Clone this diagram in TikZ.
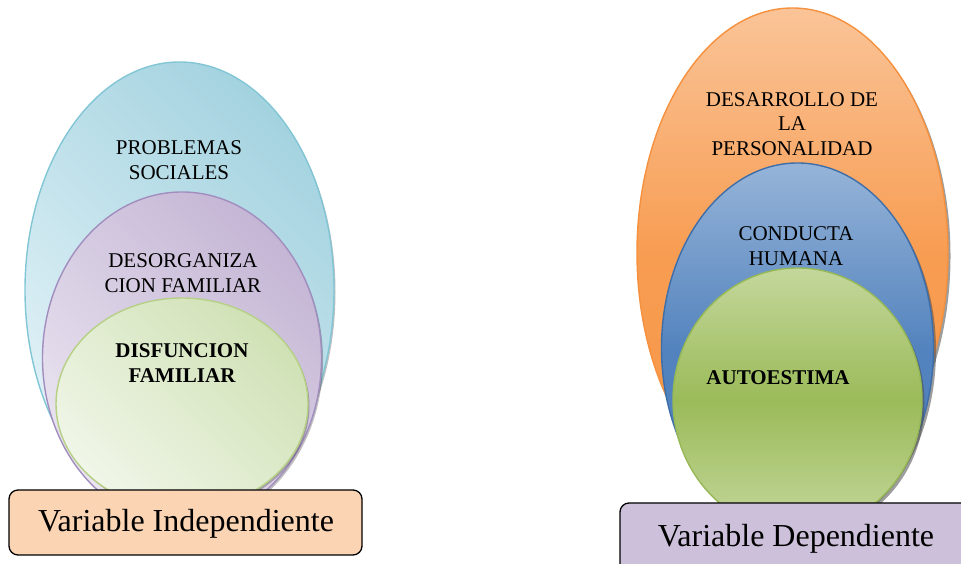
\documentclass[tikz,border=0pt]{standalone}
\usepackage{fontspec}
\setmainfont{Liberation Serif}
\usetikzlibrary{shapes.geometric,shadows}
\definecolor{lbluelt}{RGB}{226,242,247}
\definecolor{lbluedk}{RGB}{164,211,224}
\definecolor{lblueln}{RGB}{130,198,214}
\definecolor{lpurplt}{RGB}{234,228,240}
\definecolor{lpurpdk}{RGB}{196,182,213}
\definecolor{lpurpln}{RGB}{162,142,190}
\definecolor{lgreenlt}{RGB}{240,246,232}
\definecolor{lgreendk}{RGB}{208,225,181}
\definecolor{lgreenln}{RGB}{182,208,134}
\definecolor{orglt}{RGB}{250,196,152}
\definecolor{orgdk}{RGB}{247,150,70}
\definecolor{orgln}{RGB}{245,145,62}
\definecolor{bluelt}{RGB}{150,180,216}
\definecolor{bluedk}{RGB}{76,126,187}
\definecolor{blueln}{RGB}{62,110,170}
\definecolor{grnlt}{RGB}{196,215,156}
\definecolor{grndk}{RGB}{155,187,89}
\definecolor{grnln}{RGB}{150,185,85}
\definecolor{peach}{RGB}{251,212,180}
\definecolor{lilac}{RGB}{204,192,218}
\tikzset{
  oval/.style={ellipse, inner sep=0pt, line width=1.4pt},
  softshadow/.style={drop shadow={shadow xshift=1.5pt, shadow yshift=-2pt, opacity=0.25, fill=black}},
  hardshadow/.style={drop shadow={shadow xshift=2.5pt, shadow yshift=-3pt, opacity=0.55, fill=black!70}},
  lbl/.style={inner sep=0pt, align=center, font=\fontsize{21}{24.5}\selectfont},
  blbl/.style={lbl, font=\fontsize{21}{25}\selectfont\bfseries},
  varbox/.style={draw=black, line width=1.3pt, rounded corners=9pt, inner sep=0pt},
  vartext/.style={inner sep=0pt, font=\fontsize{32}{36}\selectfont},
}
\begin{document}
\begin{tikzpicture}[x=1pt,y=1pt]
\useasboundingbox (0,0) rectangle (961,564);
% left group
\node[oval, softshadow, draw=lblueln, top color=lbluedk, bottom color=lbluelt, shading angle=-45,
  minimum width=309pt, minimum height=456pt] (lblue) at (179.5,274) {};
\node[oval, softshadow, draw=lpurpln, top color=lpurpdk, bottom color=lpurplt, shading angle=-45,
  minimum width=279pt, minimum height=332pt] (lpurp) at (182,206) {};
\node[oval, softshadow, draw=lgreenln, top color=lgreendk, bottom color=lgreenlt, shading angle=-45,
  minimum width=252pt, minimum height=212pt] (lgreen) at (182,160) {};
\node[lbl] (tprob) at (179,404) {PROBLEMAS\\SOCIALES};
\node[lbl] (tdes) at (183,291) {DESORGANIZA\\CION FAMILIAR};
\node[blbl] (tdis) at (182,201) {DISFUNCION\\FAMILIAR};
\node[varbox, fill=peach, minimum width=353pt, minimum height=65pt] (vind) at (185.5,41.5) {};
\node[vartext] (tvind) at (186,40) {Variable Independiente};
% right group
\node[oval, hardshadow, draw=orgln, top color=orglt, bottom color=orgdk, middle color=orgdk!85!orglt,
  minimum width=311pt, minimum height=490pt] (rorg) at (792.5,311) {};
\node[oval, hardshadow, draw=blueln, top color=bluelt, bottom color=bluedk, middle color=bluedk!90!bluelt,
  minimum width=272pt, minimum height=370pt] (rblue) at (797.5,216) {};
\node[oval, hardshadow, draw=grnln, top color=grnlt, bottom color=grnlt, middle color=grndk,
  minimum width=249pt, minimum height=264pt] (rgreen) at (797.5,164) {};
\node[lbl] (tdesa) at (792,440) {DESARROLLO DE\\LA\\PERSONALIDAD};
\node[lbl] (tcond) at (796,318) {CONDUCTA\\HUMANA};
\node[blbl] (tauto) at (778,186) {AUTOESTIMA};
\node[varbox, fill=lilac, minimum width=355pt, minimum height=72pt] (vdep) at (797.5,25) {};
\node[vartext] (tvdep) at (796,25) {Variable Dependiente};
\end{tikzpicture}
\end{document}
